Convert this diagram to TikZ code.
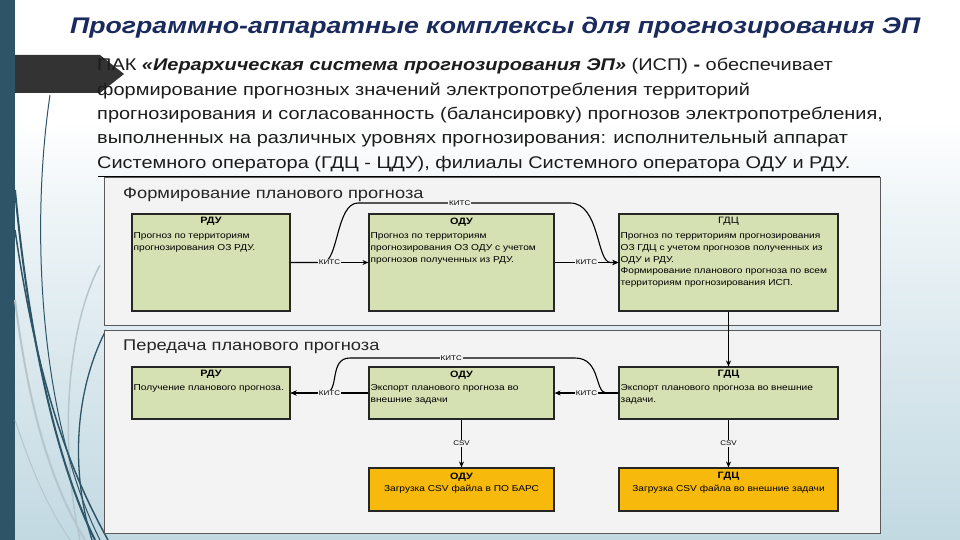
\documentclass[tikz,border=0pt]{standalone}
\usepackage{fontspec}
\setmainfont[FakeStretch=1.18]{Liberation Sans}
\usetikzlibrary{arrows.meta}
\definecolor{barteal}{HTML}{2E5567}
\definecolor{titleblue}{HTML}{1B2A5C}
\definecolor{bgblue}{HTML}{C2D9E2}
\definecolor{panelgray}{HTML}{F3F3F3}
\definecolor{boxgreen}{HTML}{D5E0B3}
\definecolor{boxyellow}{HTML}{F6B90C}
\definecolor{arrowgray}{HTML}{333333}
\definecolor{curvegray}{HTML}{B5C6CD}
\definecolor{bodytext}{HTML}{1C1C1C}
\begin{document}
\begin{tikzpicture}[x=1pt,y=-1pt,
  panel/.style={draw=black!65, line width=0.8pt, fill=panelgray},
  gbox/.style={draw=black!85, line width=1.1pt, fill=boxgreen, inner sep=0pt},
  ybox/.style={draw=black!85, line width=1.1pt, fill=boxyellow, inner sep=0pt},
  btitle/.style={font=\fontsize{9.2}{10}\selectfont\bfseries, anchor=north, inner sep=0pt},
  btitlen/.style={font=\fontsize{9.2}{10}\selectfont, anchor=north, inner sep=0pt},
  btext/.style={font=\fontsize{8.6}{11.8}\selectfont, anchor=north west, align=left, inner sep=0pt},
  bctext/.style={font=\fontsize{8.6}{11.8}\selectfont, anchor=north, align=center, inner sep=0pt},
  conn/.style={line width=1.1pt, -{Stealth[length=6pt,width=5pt]}},
  kits/.style={font=\fontsize{6.8}{7}\selectfont, fill=panelgray, inner sep=0.8pt},
  bodyline/.style={font=\fontsize{16.9}{20}\selectfont, text=bodytext, anchor=base west, inner sep=0pt},
  phead/.style={font=\fontsize{15.5}{17}\selectfont, text=black!85, anchor=base west, inner sep=0pt}
]
\useasboundingbox (0,0) rectangle (960,540);
% background
\fill[white] (0,0) rectangle (960,120);
\shade[top color=white, bottom color=white!75!bgblue] (0,120) rectangle (960,200);
\shade[top color=white!75!bgblue, bottom color=bgblue] (0,200) rectangle (960,540);
% left bar
\fill[barteal] (0,0) rectangle (15,540);
% decorative curves
\draw[curvegray, line width=1.5pt] (100,265) .. controls (65,330) and (60,450) .. (80,540);
\draw[curvegray, line width=2pt] (15,300) .. controls (30,420) and (55,490) .. (85,540);
\draw[curvegray, line width=1pt] (15,420) .. controls (35,480) and (50,510) .. (70,540);
\draw[barteal, line width=1pt] (50,95) .. controls (30,230) and (40,420) .. (100,540);
\draw[barteal, line width=2pt] (15,190) .. controls (30,350) and (60,470) .. (95,540);
\draw[barteal, line width=1.5pt] (15,230) .. controls (40,400) and (75,480) .. (108,540);
\draw[barteal, line width=1.3pt] (106,330) .. controls (75,390) and (70,470) .. (92,540);
% dark arrow
\fill[arrowgray] (15,55) -- (100,55) -- (124,74) -- (100,93) -- (15,93) -- cycle;
% title
\node[anchor=base west, inner sep=0pt, text=titleblue, font=\fontsize{22.6}{28}\selectfont\bfseries\itshape] (title) at (70,34) {Программно-аппаратные комплексы для прогнозирования ЭП};
% body
\node[bodyline] (b1) at (97,70.7) {ПАК \textbf{\textit{«Иерархическая система прогнозирования ЭП»}} (ИСП) \textbf{-} обеспечивает};
\node[bodyline] (b2) at (97,95.1) {формирование прогнозных значений электропотребления территорий};
\node[bodyline] (b3) at (97,119.5) {прогнозирования и согласованность (балансировку) прогнозов электропотребления,};
\node[bodyline] (b4) at (97,143.9) {выполненных на различных уровнях прогнозирования: исполнительный аппарат};
\node[bodyline] (b5) at (97,168.3) {Системного оператора (ГДЦ - ЦДУ), филиалы Системного оператора ОДУ и РДУ.};
% panels
\draw[panel] (104,177) rectangle (880,325);
\draw[panel] (104,330) rectangle (880,533);
\draw[black, line width=1pt] (98,177) -- (880,177);
\node[phead] (h1) at (123,198) {Формирование планового прогноза};
\node[phead] (h2) at (123,350) {Передача планового прогноза};
% boxes top row
\node[gbox, minimum width=158pt, minimum height=97pt] (rdu1) at (211,262.5) {};
\node[gbox, minimum width=185pt, minimum height=97pt] (odu1) at (461.5,262.5) {};
\node[gbox, minimum width=219pt, minimum height=97pt] (gdc1) at (728.5,262.5) {};
% boxes bottom
\node[gbox, minimum width=158pt, minimum height=52pt] (rdu2) at (211,393) {};
\node[gbox, minimum width=185pt, minimum height=52pt] (odu2) at (461.5,393) {};
\node[gbox, minimum width=219pt, minimum height=52pt] (gdc2) at (728.5,393) {};
\node[ybox, minimum width=185pt, minimum height=43pt] (odu3) at (461.5,489.5) {};
\node[ybox, minimum width=219pt, minimum height=43pt] (gdc3) at (728.5,489.5) {};
% box texts
\node[btitle] (rdu1t) at ([yshift=-4pt]rdu1.north) {РДУ};
\node[btext] (rdu1b) at ([xshift=2pt,yshift=-19pt]rdu1.north west) {Прогноз по территориям\\прогнозирования ОЗ РДУ.};
\node[btitle] (odu1t) at ([yshift=-4pt]odu1.north) {ОДУ};
\node[btext] (odu1b) at ([xshift=2pt,yshift=-19pt]odu1.north west) {Прогноз по территориям\\прогнозирования ОЗ ОДУ с учетом\\прогнозов полученных из РДУ.};
\node[btitlen] (gdc1t) at ([yshift=-4pt]gdc1.north) {ГДЦ};
\node[btext] (gdc1b) at ([xshift=2pt,yshift=-19pt]gdc1.north west) {Прогноз по территориям прогнозирования\\ОЗ ГДЦ с учетом прогнозов полученных из\\ОДУ и РДУ.\\Формирование планового прогноза по всем\\территориям прогнозирования ИСП.};
\node[btitle] (rdu2t) at ([yshift=-4pt]rdu2.north) {РДУ};
\node[btext] (rdu2b) at ([xshift=2pt,yshift=-18pt]rdu2.north west) {Получение планового прогноза.};
\node[btitle] (odu2t) at ([yshift=-4pt]odu2.north) {ОДУ};
\node[btext] (odu2b) at ([xshift=2pt,yshift=-18pt]odu2.north west) {Экспорт планового прогноза во\\внешние задачи};
\node[btitle] (gdc2t) at ([yshift=-4pt]gdc2.north) {ГДЦ};
\node[btext] (gdc2b) at ([xshift=2pt,yshift=-18pt]gdc2.north west) {Экспорт планового прогноза во внешние\\задачи.};
\node[btitle] (odu3t) at ([yshift=-5pt]odu3.north) {ОДУ};
\node[bctext] (odu3b) at ([yshift=-17pt]odu3.north) {Загрузка CSV файла в ПО БАРС};
\node[btitle] (gdc3t) at ([yshift=-5pt]gdc3.north) {ГДЦ};
\node[bctext] (gdc3b) at ([yshift=-17pt]gdc3.north) {Загрузка CSV файла во внешние задачи};
% waypoints
\coordinate (ka) at (358,203);
\coordinate (kb) at (570,203);
\coordinate (kc) at (575,358);
\coordinate (kd) at (350,358);
% curved connectors
\draw[conn] (rdu1.east) -- ([xshift=32pt]rdu1.east) .. controls ([xshift=48pt]rdu1.east) and ([xshift=-22pt]ka) .. (ka) -- (kb) node[kits, pos=0.48] (k1) {КИТС} .. controls ([xshift=30pt]kb) and ([xshift=-22pt]gdc1.west) .. ([xshift=-8pt]gdc1.west) -- (gdc1.west);
\draw[conn] (gdc2.west) -- ([xshift=-12pt]gdc2.west) .. controls ([xshift=-24pt]gdc2.west) and ([xshift=26pt]kc) .. (kc) -- (kd) node[kits, pos=0.55] (k2) {КИТС} .. controls ([xshift=-22pt]kd) and ([xshift=50pt]rdu2.east) .. ([xshift=34pt]rdu2.east) -- (rdu2.east);
% straight connectors
\draw[conn] (rdu1.east) -- (odu1.west) node[kits, midway] (k3) {КИТС};
\draw[conn] (odu1.east) -- (gdc1.west) node[kits, midway] (k4) {КИТС};
\draw[conn] (odu2.west) -- (rdu2.east) node[kits, midway] (k5) {КИТС};
\draw[conn] (gdc2.west) -- (odu2.east) node[kits, midway] (k6) {КИТС};
\draw[conn] (gdc1.south) -- (gdc2.north);
\draw[conn] (odu2.south) -- (odu3.north) node[kits, midway] (c1) {CSV};
\draw[conn] (gdc2.south) -- (gdc3.north) node[kits, midway] (c2) {CSV};
\end{tikzpicture}
\end{document}
